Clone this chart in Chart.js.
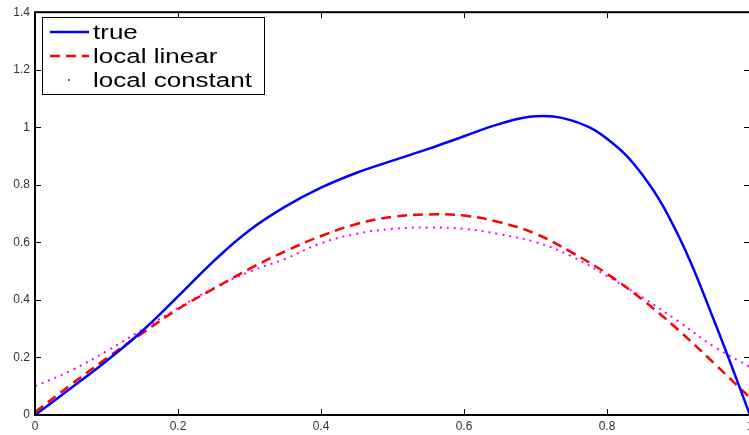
<!DOCTYPE html>
<html>
<head>
<meta charset="utf-8">
<script src="https://cdn.jsdelivr.net/npm/chart.js@4/dist/chart.umd.min.js"></script>
<style>
  html, body { margin: 0; padding: 0; background: #fff; overflow: hidden; }
  #wrap { width: 749px; height: 435px; overflow: hidden; }
</style>
</head>
<body>
<div id="wrap"><canvas id="chart" width="760" height="435"></canvas></div>
<script>
// x grid shared by the three curves
const xs = [0, 0.05, 0.1, 0.15, 0.2, 0.25, 0.3, 0.35, 0.4, 0.45, 0.5,
            0.55, 0.6, 0.65, 0.7, 0.75, 0.8, 0.85, 0.9, 0.95, 1];

const trueVals = [0, 0.093, 0.188, 0.292, 0.412, 0.535, 0.642, 0.724, 0.790, 0.842, 0.884,
                  0.925, 0.969, 1.012, 1.038, 1.024, 0.960, 0.833, 0.623, 0.327, 0];
const linearVals = [0.01, 0.105, 0.197, 0.284, 0.368, 0.439, 0.508, 0.569, 0.622, 0.664, 0.689,
                    0.697, 0.693, 0.670, 0.630, 0.566, 0.491, 0.400, 0.295, 0.179, 0.06];
const constantVals = [0.10, 0.154, 0.222, 0.297, 0.372, 0.441, 0.498, 0.543, 0.597, 0.630, 0.647,
                      0.652, 0.647, 0.628, 0.601, 0.552, 0.483, 0.408, 0.325, 0.237, 0.167];

const xTicks = [0, 0.2, 0.4, 0.6, 0.8, 1];
const yTicks = [0, 0.2, 0.4, 0.6, 0.8, 1, 1.2, 1.4];

const labels = ['true', 'local linear', 'local constant'];

const toPoints = vals => vals.map((v, i) => ({ x: xs[i], y: v }));
const fmt = v => String(Number(v.toFixed(1)));

// matlab style frame: box with inward ticks on every side, plus legend box
const framePlugin = {
    id: 'frame',
    afterDraw(chart) {
        const { ctx, chartArea: a, scales } = chart;
        ctx.save();
        ctx.strokeStyle = '#000';
        ctx.lineWidth = 1;
        ctx.beginPath();
        xTicks.forEach(v => {
            const px = Math.round(scales.x.getPixelForValue(v)) + 0.5;
            ctx.moveTo(px, a.bottom); ctx.lineTo(px, a.bottom - 6);
            ctx.moveTo(px, a.top); ctx.lineTo(px, a.top + 6);
        });
        yTicks.forEach(v => {
            const py = Math.round(scales.y.getPixelForValue(v)) + 0.5;
            ctx.moveTo(a.left, py); ctx.lineTo(a.left + 6, py);
            ctx.moveTo(a.right, py); ctx.lineTo(a.right - 6, py);
        });
        ctx.stroke();

        ctx.lineWidth = 2;
        ctx.strokeRect(a.left, a.top, a.right - a.left, a.bottom - a.top);

        // legend
        const lx = 42, ly = 17, lw = 222, lh = 77;
        ctx.fillStyle = '#fff';
        ctx.fillRect(lx, ly, lw, lh);
        ctx.lineWidth = 1;
        ctx.strokeStyle = '#000';
        ctx.strokeRect(lx + 0.5, ly + 0.5, lw, lh);

        const rows = [32, 56, 80];
        ctx.font = '20px "Liberation Sans", Arial, sans-serif';
        ctx.textBaseline = 'middle';
        chart.data.datasets.forEach((ds, i) => {
            const y = rows[i];
            ctx.strokeStyle = ds.borderColor;
            ctx.lineWidth = ds.borderWidth;
            if (ds.borderDash && ds.borderDash[0] <= 2) {
                ctx.fillStyle = ds.borderColor;
                ctx.fillRect(68, y - 1, 2, 2);
            } else {
                ctx.setLineDash(ds.borderDash || []);
                ctx.beginPath();
                ctx.moveTo(50, y); ctx.lineTo(89, y);
                ctx.stroke();
                ctx.setLineDash([]);
            }
            // the original text is stretched sideways
            ctx.save();
            ctx.translate(93, y + 1);
            ctx.scale(1.3, 1);
            ctx.fillStyle = '#000';
            ctx.fillText(ds.label, 0, 0);
            ctx.restore();
        });
        ctx.restore();
    }
};

new Chart(document.getElementById('chart'), {
    type: 'line',
    data: {
        datasets: [
            {
                label: labels[0],
                data: toPoints(trueVals),
                borderColor: '#0000ff',
                borderWidth: 2.5,
                pointRadius: 0,
                tension: 0.4
            },
            {
                label: labels[1],
                data: toPoints(linearVals),
                borderColor: '#ff0000',
                borderWidth: 2.5,
                borderDash: [10, 6],
                pointRadius: 0,
                tension: 0.4
            },
            {
                label: labels[2],
                data: toPoints(constantVals),
                borderColor: '#ff00ff',
                borderWidth: 2,
                borderDash: [2, 5],
                pointRadius: 0,
                tension: 0.4
            }
        ]
    },
    options: {
        responsive: false,
        animation: false,
        layout: { padding: { left: 0, right: 10, top: 12, bottom: 0 } },
        plugins: { legend: { display: false }, tooltip: { enabled: false } },
        scales: {
            x: {
                type: 'linear',
                min: 0,
                max: 1,
                afterFit: s => { s.height = 20; },
                afterBuildTicks: s => { s.ticks = xTicks.map(v => ({ value: v })); },
                grid: { display: false, drawTicks: false },
                border: { display: false },
                ticks: {
                    padding: 4,
                    maxRotation: 0,
                    color: '#333',
                    font: { family: '"Liberation Sans", Arial, sans-serif', size: 12 },
                    callback: v => fmt(v)
                }
            },
            y: {
                min: 0,
                max: 1.4,
                afterFit: s => { s.width = 35; },
                afterBuildTicks: s => { s.ticks = yTicks.map(v => ({ value: v })); },
                grid: { display: false, drawTicks: false },
                border: { display: false },
                ticks: {
                    padding: 5,
                    color: '#333',
                    font: { family: '"Liberation Sans", Arial, sans-serif', size: 12 },
                    callback: v => fmt(v)
                }
            }
        }
    },
    plugins: [framePlugin]
});
</script>
</body>
</html>
